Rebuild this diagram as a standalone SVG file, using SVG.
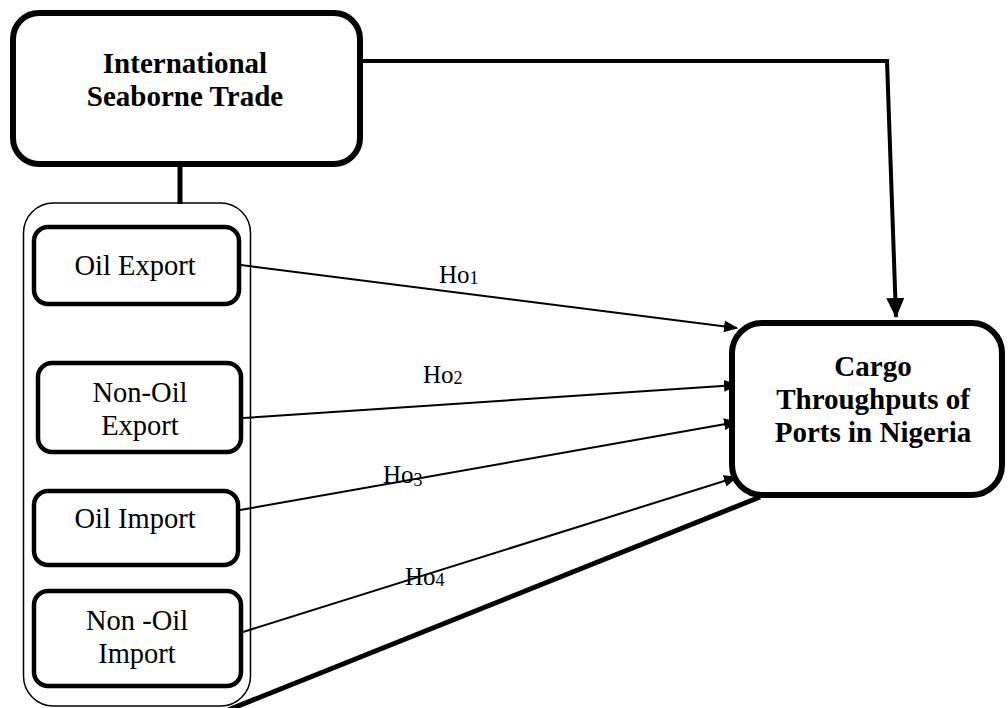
<svg xmlns="http://www.w3.org/2000/svg" width="1008" height="708" viewBox="0 0 1008 708">
<style>
.box{fill:#fff;stroke:#000}
.t{font-family:"Liberation Serif","Times New Roman",serif;fill:#000;text-anchor:middle}
.b{font-weight:bold;font-size:29px}
.r{font-size:28.5px}
.h{font-family:"Liberation Serif","Times New Roman",serif;font-size:25px;fill:#000}
.s{font-size:18px}
.c{fill:none;stroke:#000}
</style>
<defs>
<marker id="ah" markerUnits="userSpaceOnUse" markerWidth="14" markerHeight="12" refX="13" refY="6" orient="auto">
<path d="M0,0 L14,6 L0,12 z" fill="#000"/>
</marker>
<marker id="ahb" markerUnits="userSpaceOnUse" markerWidth="20" markerHeight="18" refX="19" refY="9" orient="auto">
<path d="M0,0 L20,9 L0,18 z" fill="#000"/>
</marker>
</defs>
<g id="connectors">
<line class="c" x1="180" y1="164" x2="180" y2="204" stroke-width="5"/>
<path class="c" d="M362,61 L887,61 L896,317" stroke-width="4" marker-end="url(#ahb)"/>
<line class="c" x1="241" y1="265" x2="737" y2="328" stroke-width="2" marker-end="url(#ah)"/>
<line class="c" x1="243" y1="418" x2="737" y2="385" stroke-width="2" marker-end="url(#ah)"/>
<line class="c" x1="240" y1="510" x2="737" y2="422" stroke-width="2" marker-end="url(#ah)"/>
<line class="c" x1="243" y1="632" x2="737" y2="477" stroke-width="2" marker-end="url(#ah)"/>
<line class="c" x1="760" y1="497" x2="228" y2="710" stroke-width="5"/>
</g>
<g id="labels">
<text class="h" x="439" y="283">Ho<tspan class="s" dy="1">1</tspan></text>
<text class="h" x="423" y="383">Ho<tspan class="s" dy="1">2</tspan></text>
<text class="h" x="383" y="483">Ho<tspan class="s" dy="3">3</tspan></text>
<text class="h" x="405" y="585">Ho<tspan class="s" dy="1">4</tspan></text>
</g>
<g id="international-seaborne-trade">
<rect class="box" x="13" y="13" width="347" height="151" rx="26" stroke-width="6"/>
<text class="t b" x="185" y="73">International</text>
<text class="t b" x="185" y="106">Seaborne Trade</text>
</g>
<g id="trade-components">
<rect x="23.5" y="203" width="227" height="503" rx="30" fill="none" stroke="#000" stroke-width="1.5"/>
</g>
<g id="oil-export">
<rect class="box" x="34" y="227" width="205" height="77" rx="14" stroke-width="4.5"/>
<text class="t r" x="135" y="275">Oil Export</text>
</g>
<g id="non-oil-export">
<rect class="box" x="38" y="363" width="203" height="89" rx="14" stroke-width="4.5"/>
<text class="t r" x="140" y="402">Non-Oil</text>
<text class="t r" x="140" y="435">Export</text>
</g>
<g id="oil-import">
<rect class="box" x="34" y="491" width="204" height="74" rx="14" stroke-width="4.5"/>
<text class="t r" x="135" y="528">Oil Import</text>
</g>
<g id="non-oil-import">
<rect class="box" x="34" y="591" width="207" height="95" rx="14" stroke-width="4.5"/>
<text class="t r" x="137" y="630">Non -Oil</text>
<text class="t r" x="137" y="663">Import</text>
</g>
<g id="cargo-throughputs">
<rect class="box" x="732" y="323" width="270" height="172" rx="30" stroke-width="6"/>
<text class="t b" x="873" y="376">Cargo</text>
<text class="t b" x="873" y="409">Throughputs of</text>
<text class="t b" x="873" y="442">Ports in Nigeria</text>
</g>
</svg>
